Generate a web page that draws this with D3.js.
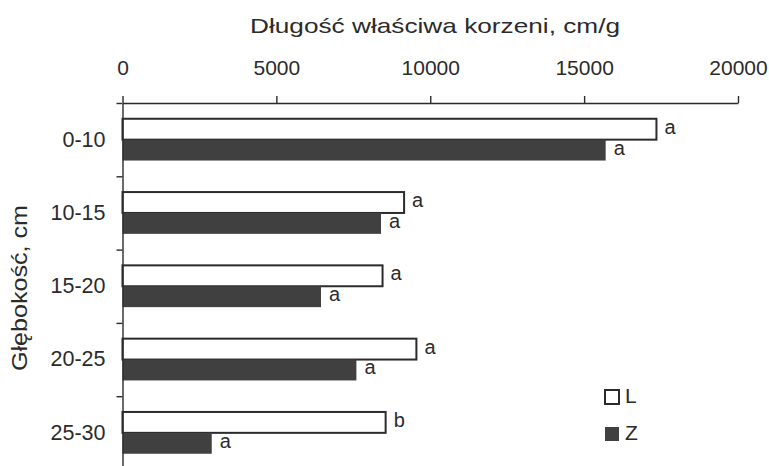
<!DOCTYPE html>
<html>
<head>
<meta charset="utf-8">
<script src="https://cdn.jsdelivr.net/npm/d3@7"></script>
<style>
  body { margin: 0; background: #fff; }
  svg text { font-family: "Liberation Sans", Arial, sans-serif; fill: #2b2b2b; }
</style>
</head>
<body>
<svg id="chart" width="769" height="466"></svg>
<script>
// values
const depths = ["0-10", "10-15", "15-20", "20-25", "25-30"];
const seriesNames = ["L", "Z"];
const valuesL = [17350, 9150, 8450, 9550, 8550];
const valuesZ = [15700, 8400, 6450, 7600, 2900];
const lettersL = ["a", "a", "a", "a", "b"];
const lettersZ = ["a", "a", "a", "a", "a"];
const xTicks = [0, 5000, 10000, 15000, 20000];

const svg = d3.select("#chart");
const ink = "#2b2b2b";
const dark = "#404040";

const x = d3.scaleLinear().domain([0, 20000]).range([122.5, 738]);
const y = d3.scaleBand().domain(depths).range([103, 469.5])
    .paddingInner(0.43).paddingOuter(0.215);
const sub = d3.scaleBand().domain(seriesNames).range([0, y.bandwidth()]);
// boundaries between depth classes (ticks sit there, not at band centres)
const yEdge = d3.scaleLinear().domain([0, depths.length]).range([103, 469.5]);

let rows = depths.map(function(d, i) {
    return [
        {depth: d, s: "L", v: valuesL[i], letter: lettersL[i]},
        {depth: d, s: "Z", v: valuesZ[i], letter: lettersZ[i]}
    ];
}).flat();

// bars
svg.append("g").selectAll("rect")
    .data(rows).enter()
    .append("rect")
    .attr("x", x(0))
    .attr("y", d => y(d.depth) + sub(d.s))
    .attr("width", d => x(d.v) - x(0))
    .attr("height", sub.bandwidth())
    .attr("fill", d => d.s == "L" ? "#fff" : dark)
    .attr("stroke", d => d.s == "L" ? ink : "none")
    .attr("stroke-width", 2);

// significance letters
svg.append("g").selectAll("text")
    .data(rows).enter()
    .append("text")
    .attr("x", d => x(d.v) + 8)
    .attr("y", d => y(d.depth) + sub(d.s) + sub.bandwidth() / 2 + 4.5)
    .style("font-size", "20px")
    .text(d => d.letter);

// top axis
let xAxis = svg.append("g")
    .attr("transform", "translate(0," + yEdge(0) + ")")
    .call(d3.axisTop(x).tickValues(xTicks).tickFormat(d3.format("d"))
        .tickSize(7).tickSizeOuter(0).tickPadding(21));
xAxis.selectAll("text").style("font-size", "21px").attr("fill", ink);
xAxis.selectAll("line, path").attr("stroke", ink).attr("stroke-width", 1.4);

// left axis: boundary ticks
let yAxis = svg.append("g")
    .attr("transform", "translate(" + x(0) + ",0)")
    .call(d3.axisLeft(yEdge).tickValues(d3.range(depths.length + 1)).tickSize(6).tickSizeOuter(0).tickFormat(""));
yAxis.selectAll("line, path").attr("stroke", ink).attr("stroke-width", 1.4);

// left axis: category labels
let yLabels = svg.append("g")
    .attr("transform", "translate(" + x(0) + ",0)")
    .call(d3.axisLeft(y).tickSize(0).tickPadding(17));
yLabels.select(".domain").remove();
yLabels.selectAll("text").style("font-size", "21.5px").attr("fill", ink);

// titles
svg.append("text")
    .attr("x", 435).attr("y", 33)
    .attr("text-anchor", "middle")
    .attr("textLength", 370).attr("lengthAdjust", "spacingAndGlyphs")
    .style("font-size", "21px")
    .text("Długość właściwa korzeni, cm/g");

svg.append("text")
    .attr("transform", "translate(27,288) rotate(-90)")
    .attr("text-anchor", "middle")
    .attr("textLength", 166).attr("lengthAdjust", "spacingAndGlyphs")
    .style("font-size", "22px")
    .text("Głębokość, cm");

// legend
let legend = svg.append("g").selectAll("g")
    .data(seriesNames).enter()
    .append("g")
    .attr("transform", (d, i) => "translate(605," + (390 + i * 37) + ")");
legend.append("rect")
    .attr("width", 14).attr("height", 14)
    .attr("fill", d => d == "L" ? "#fff" : dark)
    .attr("stroke", d => d == "L" ? ink : "none")
    .attr("stroke-width", 2);
legend.append("text")
    .attr("x", 20).attr("y", 13)
    .style("font-size", "21px")
    .text(d => d);
</script>
</body>
</html>
